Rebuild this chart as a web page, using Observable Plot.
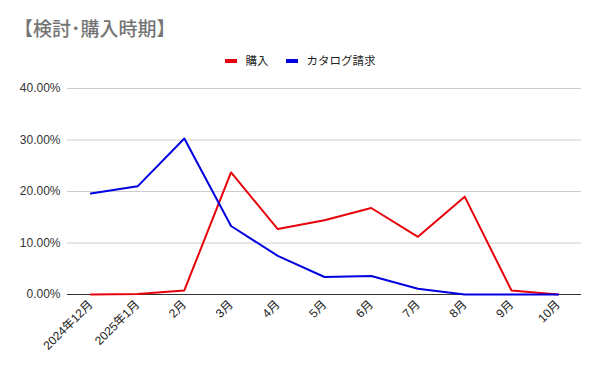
<!DOCTYPE html>
<html><head><meta charset="utf-8">
<script src="https://cdn.jsdelivr.net/npm/d3@7"></script>
<script src="https://cdn.jsdelivr.net/npm/@observablehq/plot@0.6"></script>
<style>
body{margin:0;background:#fff;font-family:"Liberation Sans","Noto Sans CJK JP",sans-serif;}
#wrap{position:relative;width:600px;height:371px;}
#title{position:absolute;left:14px;top:14px;font-size:19px;color:#757575;font-family:"Noto Sans CJK JP",sans-serif;font-weight:500;}
#legend{position:absolute;left:0;top:52px;width:600px;display:flex;justify-content:center;gap:17px;font-size:11.5px;color:#222;font-family:"Liberation Sans","Noto Sans CJK JP",sans-serif;}
#legend span.sw{display:inline-block;width:12px;height:4px;margin-right:9px;vertical-align:middle;position:relative;top:-1px;}
</style></head>
<body><div id="wrap"><div id="title">【検討･購入時期】</div>
<div id="legend"><div><span class="sw" style="background:#e8000b"></span>購入</div><div><span class="sw" style="background:#0000e0"></span>カタログ請求</div></div>
<div id="chart"></div></div>
<script>
const months = ["2024年12月","2025年1月","2月","3月","4月","5月","6月","7月","8月","9月","10月"];
const purchase = [0.000,0.001,0.008,0.237,0.127,0.144,0.168,0.112,0.190,0.008,0.000];
const catalog = [0.196,0.210,0.303,0.133,0.075,0.034,0.036,0.011,0.000,0.000,0.000];
const seriesNames = ["購入","カタログ請求"];
const colors = ["#e8000b","#0000e0"];
const yTicks = [0,0.1,0.2,0.3,0.4];

const data = [];
months.forEach((m,i)=>{data.push({month:m,value:purchase[i],series:seriesNames[0]});});
months.forEach((m,i)=>{data.push({month:m,value:catalog[i],series:seriesNames[1]});});

const chart = Plot.plot({
  width:600,height:371,
  marginTop:88,marginBottom:77,marginLeft:67,marginRight:19,
  style:{fontFamily:'"Liberation Sans","Noto Sans CJK JP",sans-serif',fontSize:"12px",color:"#333",background:"transparent"},
  x:{type:"point",domain:months,padding:0.5,round:false,label:null},
  y:{domain:[0,0.4],label:null},
  color:{domain:seriesNames,range:colors},
  marks:[
    Plot.gridY(yTicks,{stroke:"#cccccc",strokeOpacity:1}),
    Plot.axisY(yTicks,{tickFormat:d3.format(".2%"),tickSize:0,tickPadding:7,label:null,fill:"#333"}),
    Plot.axisX({tickSize:0,tickRotate:-45,tickPadding:8,label:null,fill:"#222"}),
    Plot.ruleY([0],{stroke:"#333",strokeWidth:1}),
    Plot.line(data,{x:"month",y:"value",z:"series",stroke:"series",strokeWidth:2})
  ]
});
document.getElementById("chart").appendChild(chart);
</script></body></html>
